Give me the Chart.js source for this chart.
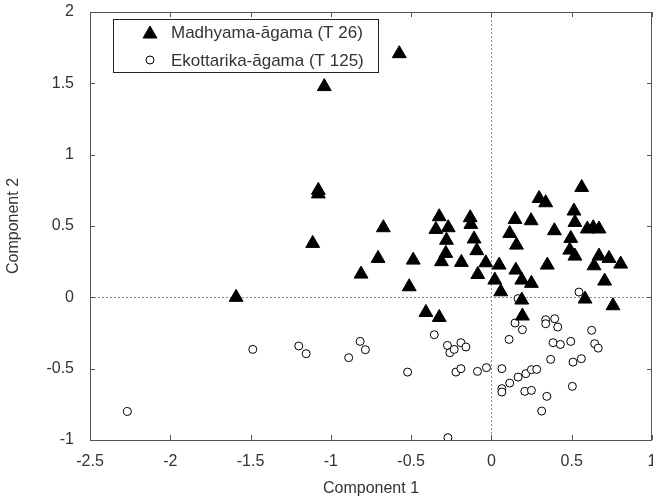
<!DOCTYPE html>
<html lang="en">
<head>
<meta charset="UTF-8">
<title>Component plot</title>
<script src="https://cdn.jsdelivr.net/npm/chart.js"></script>
<style>
    body { margin: 0; background: #fff; }
    #wrap { width: 653px; height: 504px; }
</style>
</head>
<body>
<div id="wrap"><canvas id="scatter" width="653" height="504"></canvas></div>
<script>
// series names
const seriesNames = ['Madhyama-āgama (T 26)', 'Ekottarika-āgama (T 125)'];

// Madhyama-āgama (triangles)
const madhyamaX = [-1.078, -1.078, -1.113, -0.673, -0.706, -0.812, -0.487, -0.512, -0.325, -0.346,
    -0.269, -0.28, -0.284, -0.311, -0.187, -0.132, -0.128, -0.108, -0.091, -0.035,
    -0.085, 0.021, 0.048, 0.058, 0.147, 0.114, 0.156, 0.152, 0.189, 0.249,
    0.189, 0.247, 0.297, 0.338, 0.392, 0.348, 0.562, 0.514, 0.52, 0.597,
    0.634, 0.67, 0.494, 0.488, 0.52, 0.67, 0.732, 0.805, 0.639, 0.705,
    0.583, 0.757, -0.408, -0.325, 0.193, -1.59, -0.574, -1.041];
const madhyamaY = [0.75, 0.725, 0.378, 0.488, 0.273, 0.163, 0.261, 0.074, 0.565, 0.476,
    0.488, 0.4, 0.308, 0.25, 0.245, 0.558, 0.511, 0.409, 0.327, 0.242,
    0.16, 0.121, 0.226, 0.039, 0.546, 0.448, 0.366, 0.191, 0.121, 0.098,
    -0.019, 0.537, 0.693, 0.663, 0.467, 0.226, 0.77, 0.605, 0.525, 0.479,
    0.488, 0.479, 0.413, 0.331, 0.289, 0.289, 0.273, 0.233, 0.221, 0.114,
    -0.012, -0.059, -0.106, -0.141, -0.131, 0.0, 1.708, 1.477];

// Ekottarika-āgama (circles)
const ekottarikaX = [0.545, 0.166, 0.147, 0.193, 0.11, 0.338, 0.338, 0.394, 0.413, 0.624,
    0.384, 0.429, 0.494, 0.643, 0.665, 0.369, 0.508, 0.56, 0.504, 0.065,
    -0.031, -0.087, 0.065, 0.065, 0.114, 0.166, 0.214, 0.249, 0.282, 0.208,
    0.249, 0.345, 0.313, -0.271, -0.356, -0.274, -0.259, -0.232, -0.19, -0.159,
    -0.221, -0.19, -0.522, -0.889, -0.818, -0.785, -1.154, -1.2, -1.486, -2.267];
const ekottarikaY = [0.037, -0.009, -0.18, -0.227, -0.295, -0.157, -0.185, -0.15, -0.208, -0.231,
    -0.318, -0.33, -0.309, -0.325, -0.356, -0.435, -0.454, -0.43, -0.624, -0.5,
    -0.493, -0.519, -0.64, -0.664, -0.601, -0.559, -0.535, -0.507, -0.505, -0.659,
    -0.652, -0.694, -0.797, -0.984, -0.262, -0.337, -0.388, -0.365, -0.318, -0.348,
    -0.524, -0.5, -0.524, -0.423, -0.309, -0.367, -0.395, -0.341, -0.365, -0.8];

// axis ranges and tick labels
const xRange = [-2.5, 1];
const yRange = [-1, 2];
const xTickStep = 0.5;
const yTickStep = 0.5;
const xTitle = 'Component 1';
const yTitle = 'Component 2';

const textColor = '#333';
const fontFamily = '"Liberation Sans", Arial, sans-serif';

function toPoints(xs, ys) {
    return xs.map((x, i) => ({ x: x, y: ys[i] }));
}

// zero lines, frame, inward ticks and the boxed legend
const framePlugin = {
    id: 'frame',
    beforeDatasetsDraw(chart) {
        const { ctx, chartArea: a, scales } = chart;
        const x0 = scales.x.getPixelForValue(0);
        const y0 = scales.y.getPixelForValue(0);
        ctx.save();
        ctx.strokeStyle = '#888';
        ctx.lineWidth = 1;
        ctx.setLineDash([2, 2]);
        ctx.beginPath();
        ctx.moveTo(Math.round(x0) + 0.5, a.top);
        ctx.lineTo(Math.round(x0) + 0.5, a.bottom);
        ctx.moveTo(a.left, Math.round(y0) + 0.5);
        ctx.lineTo(a.right, Math.round(y0) + 0.5);
        ctx.stroke();
        ctx.restore();
    },
    afterDatasetsDraw(chart) {
        const { ctx, chartArea: a, scales } = chart;
        ctx.save();
        ctx.strokeStyle = '#555';
        ctx.lineWidth = 1;
        ctx.strokeRect(Math.round(a.left) + 0.5, Math.round(a.top) + 0.5,
            Math.round(a.right - a.left) - 1, Math.round(a.bottom - a.top));
        ctx.beginPath();
        scales.x.ticks.forEach(t => {
            const px = Math.round(scales.x.getPixelForValue(t.value)) + 0.5;
            ctx.moveTo(px, a.bottom); ctx.lineTo(px, a.bottom - 5);
            ctx.moveTo(px, a.top); ctx.lineTo(px, a.top + 5);
        });
        scales.y.ticks.forEach(t => {
            const py = Math.round(scales.y.getPixelForValue(t.value)) + 0.5;
            ctx.moveTo(a.left, py); ctx.lineTo(a.left + 5, py);
            ctx.moveTo(a.right, py); ctx.lineTo(a.right - 5, py);
        });
        ctx.stroke();

        // legend box
        const bx = 113, by = 19, bw = 265, bh = 53;
        ctx.fillStyle = '#fff';
        ctx.fillRect(bx, by, bw, bh);
        ctx.strokeStyle = '#222';
        ctx.strokeRect(bx + 0.5, by + 0.5, bw, bh);
        const ds = chart.data.datasets;
        const rows = [32, 60];
        rows.forEach((ry, i) => {
            ctx.fillStyle = ds[i].backgroundColor;
            ctx.strokeStyle = ds[i].borderColor;
            ctx.lineWidth = ds[i].borderWidth;
            Chart.helpers.drawPoint(ctx, {
                pointStyle: ds[i].pointStyle,
                radius: ds[i].pointRadius,
                borderWidth: ds[i].borderWidth,
                rotation: 0
            }, 150, ry + (i === 0 ? 2 : 0));
            ctx.fillStyle = textColor;
            ctx.font = '17px ' + fontFamily;
            ctx.textBaseline = 'middle';
            ctx.fillText(seriesNames[i], 171, ry + 1);
        });
        ctx.restore();
    }
};

const ctx = document.getElementById('scatter').getContext('2d');
new Chart(ctx, {
    type: 'scatter',
    data: {
        datasets: [{
            label: seriesNames[0],
            data: toPoints(madhyamaX, madhyamaY),
            pointStyle: 'triangle',
            pointRadius: 8,
            backgroundColor: '#000',
            borderColor: '#000',
            borderWidth: 1
        }, {
            label: seriesNames[1],
            data: toPoints(ekottarikaX, ekottarikaY),
            pointStyle: 'circle',
            pointRadius: 4,
            backgroundColor: '#fff',
            borderColor: '#000',
            borderWidth: 1
        }]
    },
    options: {
        responsive: false,
        animation: false,
        events: [],
        layout: { autoPadding: false, padding: { top: 12, right: 1, left: 0, bottom: 0 } },
        plugins: {
            legend: { display: false },
            tooltip: { enabled: false }
        },
        scales: {
            x: {
                type: 'linear',
                min: xRange[0],
                max: xRange[1],
                afterFit(scale) {
                    scale.height = 64;
                    scale.paddingLeft = 0;
                    scale.paddingRight = 0;
                },
                ticks: {
                    stepSize: xTickStep,
                    padding: 12,
                    color: textColor,
                    font: { size: 16, family: fontFamily },
                    maxRotation: 0,
                    callback: v => String(v)
                },
                grid: { display: false, drawTicks: false },
                border: { display: false },
                title: {
                    display: true,
                    text: xTitle,
                    color: textColor,
                    font: { size: 16, family: fontFamily },
                    padding: { top: 6, bottom: 6 }
                }
            },
            y: {
                type: 'linear',
                min: yRange[0],
                max: yRange[1],
                afterFit(scale) {
                    scale.width = 90;
                    scale.paddingTop = 0;
                    scale.paddingBottom = 0;
                },
                ticks: {
                    stepSize: yTickStep,
                    padding: 16,
                    color: textColor,
                    font: { size: 16, family: fontFamily },
                    callback: v => String(v)
                },
                grid: { display: false, drawTicks: false },
                border: { display: false },
                title: {
                    display: true,
                    text: yTitle,
                    color: textColor,
                    font: { size: 16, family: fontFamily },
                    padding: { top: 4, bottom: 4 }
                }
            }
        }
    },
    plugins: [framePlugin]
});
</script>
</body>
</html>
